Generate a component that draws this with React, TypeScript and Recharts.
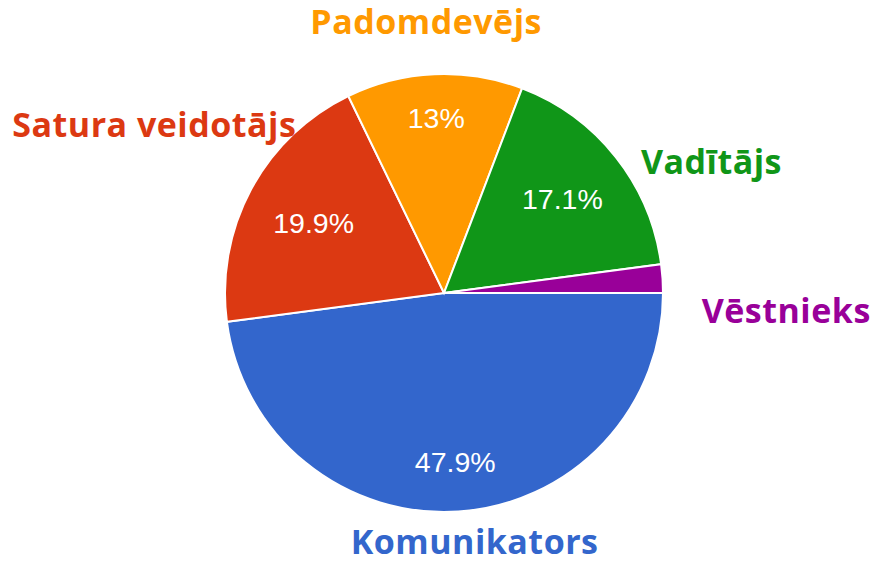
import React from 'react';
import { PieChart, Pie, Cell } from 'recharts';

const ROLES = ['Komunikators', 'Satura veidotājs', 'Padomdevējs', 'Vadītājs', 'Vēstnieks'];
const SHARES = [47.9, 19.9, 13, 17.1, 2.1];

const COLORS: { [key: string]: string } = {
  'Komunikators': '#3366cc',
  'Satura veidotājs': '#dc3912',
  'Padomdevējs': '#ff9900',
  'Vadītājs': '#109618',
  'Vēstnieks': '#990099',
};

// how far out (fraction of radius) the % label sits inside each slice
const PCT_RADIUS: { [key: string]: number } = {
  'Komunikators': 0.775,
  'Satura veidotājs': 0.676,
  'Padomdevējs': 0.802,
  'Vadītājs': 0.689,
  'Vēstnieks': 0.75,
};

// outer name labels: extra distance past the rim + small nudge (annotation style)
const NAME_OFFSET: { [key: string]: { d: number; dx: number; dy: number } } = {
  'Komunikators': { d: 33, dx: 14, dy: 10 },
  'Satura veidotājs': { d: 111, dx: 1, dy: 0 },
  'Padomdevējs': { d: 51, dx: -6, dy: 11 },
  'Vadītājs': { d: 71, dx: 40, dy: 61 },
  'Vēstnieks': { d: 126, dx: -2, dy: 53 },
};

const chartData = ROLES.map((name, i) => ({ name, value: SHARES[i] }));

const RAD = Math.PI / 180;

const renderLabel = (props: any) => {
  const { cx, cy, midAngle, outerRadius, percent, name } = props;
  const cos = Math.cos(-midAngle * RAD);
  const sin = Math.sin(-midAngle * RAD);
  const r = outerRadius * PCT_RADIUS[name];
  const off = NAME_OFFSET[name];
  const nr = outerRadius + off.d;
  return (
    <g>
      {percent > 0.05 && (
        <text
          x={cx + r * cos}
          y={cy + r * sin}
          fill="#ffffff"
          textAnchor="middle"
          dominantBaseline="central"
          style={{ fontFamily: '"Liberation Sans", Arial, sans-serif', fontSize: 28.5 }}
        >
          {`${Number((percent * 100).toFixed(1))}%`}
        </text>
      )}
      <text
        x={cx + nr * cos + off.dx}
        y={cy + nr * sin + off.dy}
        fill={COLORS[name]}
        textAnchor="middle"
        style={{ fontFamily: '"Open Sans", sans-serif', fontSize: 34, fontWeight: 700, letterSpacing: 0.5 }}
      >
        {name}
      </text>
    </g>
  );
};

const App: React.FC = () => (
  <div style={{ position: 'absolute', left: 0, top: 0, width: 876, height: 562, background: '#fff' }}>
    <PieChart width={876} height={562} margin={{ top: 0, right: 0, bottom: 0, left: 0 }}>
      <Pie
        data={chartData}
        dataKey="value"
        nameKey="name"
        cx={444}
        cy={293}
        outerRadius={219}
        startAngle={0}
        endAngle={-360}
        stroke="#ffffff"
        strokeWidth={2}
        label={renderLabel}
        labelLine={false}
        isAnimationActive={false}
      >
        {chartData.map((entry) => (
          <Cell key={`cell-${entry.name}`} fill={COLORS[entry.name]} />
        ))}
      </Pie>
    </PieChart>
  </div>
);

export default App;
